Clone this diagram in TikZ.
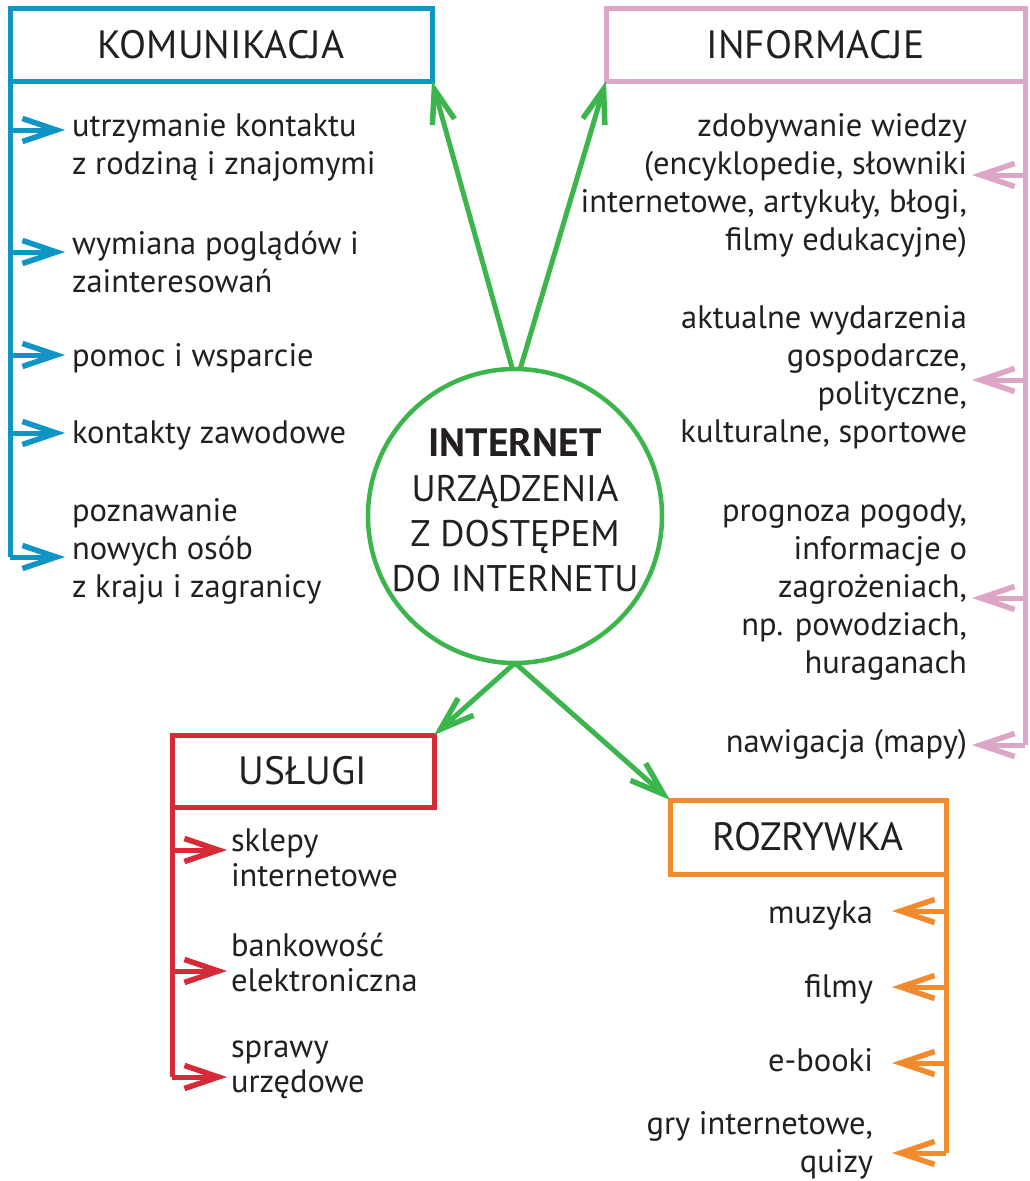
\documentclass[tikz,border=0pt]{standalone}
\usepackage{fontspec}
\setmainfont{PT Sans}
\usetikzlibrary{arrows.meta}
\definecolor{cblue}{HTML}{0F94C6}
\definecolor{cpink}{HTML}{DCA7C6}
\definecolor{cgreen}{HTML}{3CB54C}
\definecolor{cred}{HTML}{D62A36}
\definecolor{corange}{HTML}{F28A2E}
\definecolor{ctext}{HTML}{231F20}
\begin{document}
\begin{tikzpicture}[x=1pt,y=-1pt,
  box/.style={draw, line width=5pt, inner sep=0pt, outer sep=0pt, text=ctext,
    font=\fontsize{39.5}{46}\selectfont},
  item/.style={inner sep=0pt, outer sep=0pt, text=ctext, font=\fontsize{32.5}{38}\selectfont},
  itemL/.style={item, anchor=west, align=left},
  itemR/.style={item, anchor=east, align=right},
  trunk/.style={line width=5pt},
  tip/.style={-{Straight Barb[length=34pt,width=23pt,line width=5.5pt]}, line width=5pt},
]
\useasboundingbox (0,0) rectangle (1029,1181);

% ---------- boxes ----------
\node[box, draw=cblue, minimum width=422pt, minimum height=73pt] (kom) at (221,44.5) {KOMUNIKACJA};
\node[box, draw=cpink, minimum width=419pt, minimum height=73pt] (inf) at (815.5,44.5) {INFORMACJE};
\node[box, draw=cred, minimum width=262pt, minimum height=72pt] (usl) at (303,771) {USŁUGI};
\node[box, draw=corange, minimum width=276pt, minimum height=74pt] (roz) at (808,837) {ROZRYWKA};

% ---------- centre ----------
\node[draw=cgreen, line width=4.5pt, circle, minimum size=294pt, inner sep=0pt, outer sep=0pt] (c) at (515,516) {};
\node[inner sep=0pt, text=ctext, align=center, font=\fontsize{37}{45}\selectfont] (ct) at (515,510)
  {{\fontsize{39.5}{45}\selectfont\bfseries INTERNET}\\URZĄDZENIA\\Z DOSTĘPEM\\DO INTERNETU};

\draw[tip, cgreen] (c.91) -- (kom.south east);
\draw[tip, cgreen] (c.88) -- (inf.south west);
\draw[tip, cgreen] (c.south) -- (usl.north east);
\draw[tip, cgreen] (c.south) -- (roz.north west);

% ---------- KOMUNIKACJA ----------
\coordinate (kb1) at (10,130); \coordinate (ka1) at (65,130);
\coordinate (kb2) at (10,252); \coordinate (ka2) at (65,252);
\coordinate (kb3) at (10,355); \coordinate (ka3) at (65,355);
\coordinate (kb4) at (10,433); \coordinate (ka4) at (65,433);
\coordinate (kb5) at (10,557); \coordinate (ka5) at (65,557);
\draw[trunk, cblue] (kom.south west) -- (kb5);
\foreach \i in {1,...,5} {\draw[tip, cblue] (kb\i) -- (ka\i);}
\node[itemL] (k1) at (72,147) {utrzymanie kontaktu\\z rodziną i znajomymi};
\node[itemL] (k2) at (72,261.5) {wymiana poglądów i\\zainteresowań};
\node[itemL] (k3) at (72,358) {pomoc i wsparcie};
\node[itemL] (k4) at (72,435) {kontakty zawodowe};
\node[itemL] (k5) at (72,551) {poznawanie\\nowych osób\\z kraju i zagranicy};

% ---------- INFORMACJE ----------
\coordinate (ib1) at (1025,175); \coordinate (ia1) at (972,175);
\coordinate (ib2) at (1025,380); \coordinate (ia2) at (972,380);
\coordinate (ib3) at (1025,598); \coordinate (ia3) at (972,598);
\coordinate (ib4) at (1025,745); \coordinate (ia4) at (972,745);
\draw[trunk, cpink] (inf.south east) -- (ib4);
\foreach \i in {1,...,4} {\draw[tip, cpink] (ib\i) -- (ia\i);}
\node[itemR] (i1) at (967,186) {zdobywanie wiedzy\\(encyklopedie, słowniki\\internetowe, artykuły, błogi,\\filmy edukacyjne)};
\node[itemR] (i2) at (967,377.5) {aktualne wydarzenia\\gospodarcze,\\polityczne,\\kulturalne, sportowe};
\node[itemR] (i3) at (967,589.5) {prognoza pogody,\\informacje o\\zagrożeniach,\\np. powodziach,\\huraganach};
\node[itemR] (i4) at (967,744) {nawigacja (mapy)};

% ---------- USŁUGI ----------
\coordinate (ub1) at (172,850); \coordinate (ua1) at (227,850);
\coordinate (ub2) at (172,971); \coordinate (ua2) at (227,971);
\coordinate (ub3) at (172,1077); \coordinate (ua3) at (227,1077);
\draw[trunk, cred] (usl.south west) -- (ub3);
\foreach \i in {1,...,3} {\draw[tip, cred] (ub\i) -- (ua\i);}
\node[itemL, font=\fontsize{32.5}{35}\selectfont] (u1) at (231,857.5) {sklepy\\internetowe};
\node[itemL, font=\fontsize{32.5}{35}\selectfont] (u2) at (231,962.5) {bankowość\\elektroniczna};
\node[itemL, font=\fontsize{32.5}{35}\selectfont] (u3) at (231,1069.5) {sprawy\\urzędowe};

% ---------- ROZRYWKA ----------
\coordinate (rb1) at (946,911); \coordinate (ra1) at (892,911);
\coordinate (rb2) at (946,987); \coordinate (ra2) at (892,987);
\coordinate (rb3) at (946,1063); \coordinate (ra3) at (892,1063);
\coordinate (rb4) at (946,1153); \coordinate (ra4) at (892,1153);
\draw[trunk, corange] (roz.south east) -- (rb4);
\foreach \i in {1,...,4} {\draw[tip, corange] (rb\i) -- (ra\i);}
\node[itemR] (r1) at (873,915) {muzyka};
\node[itemR] (r2) at (873,989) {filmy};
\node[itemR] (r3) at (873,1060) {e-booki};
\node[itemR] (r4) at (873,1145) {gry internetowe,\\quizy};
\end{tikzpicture}
\end{document}
